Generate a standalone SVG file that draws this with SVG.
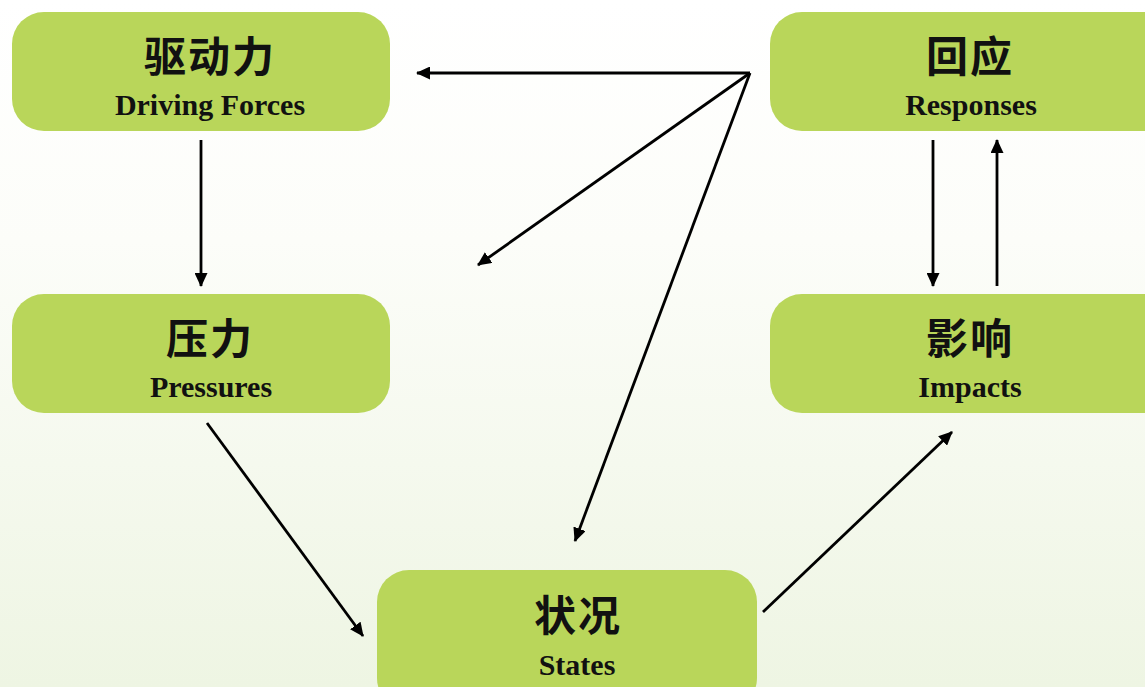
<svg xmlns="http://www.w3.org/2000/svg" width="1145" height="687" viewBox="0 0 1145 687">
<defs>
<linearGradient id="bg" x1="0" y1="0" x2="0" y2="1">
<stop offset="0" stop-color="#ffffff"/>
<stop offset="0.35" stop-color="#fcfdf9"/>
<stop offset="1" stop-color="#eef5e3"/>
</linearGradient>
<marker id="ah" viewBox="0 0 14 13" refX="13" refY="6.5" markerWidth="14" markerHeight="13" markerUnits="userSpaceOnUse" orient="auto">
<path d="M0,0 L14,6.5 L0,13 Z" fill="#000"/>
</marker>
<style>
.box{fill:#b9d65a;}
.zh{font-family:"Liberation Serif","Noto Sans CJK SC",serif;font-weight:bold;font-size:42px;fill:#111;text-anchor:middle;letter-spacing:2px;}
.en{font-family:"Liberation Serif",serif;font-weight:bold;font-size:30px;fill:#111;text-anchor:middle;}
.c{stroke:#000;stroke-width:2.8;fill:none;marker-end:url(#ah);}
</style>
</defs>
<rect width="1145" height="687" fill="url(#bg)"/>
<g id="driving">
<rect class="box" x="12" y="12" width="378" height="119" rx="32"/>
<text class="zh" x="210" y="72">驱动力</text>
<text class="en" x="210" y="115">Driving Forces</text>
</g>
<g id="responses">
<rect class="box" x="770" y="12" width="410" height="119" rx="32"/>
<text class="zh" x="970" y="72">回应</text>
<text class="en" x="971" y="115">Responses</text>
</g>
<g id="pressures">
<rect class="box" x="12" y="294" width="378" height="119" rx="32"/>
<text class="zh" x="210" y="354">压力</text>
<text class="en" x="211" y="397">Pressures</text>
</g>
<g id="impacts">
<rect class="box" x="770" y="294" width="410" height="119" rx="32"/>
<text class="zh" x="970" y="354">影响</text>
<text class="en" x="970" y="397">Impacts</text>
</g>
<g id="states">
<rect class="box" x="377" y="570" width="380" height="140" rx="32"/>
<text class="zh" x="578" y="631">状况</text>
<text class="en" x="577" y="675">States</text>
</g>
<g id="connectors">
<line class="c" x1="750" y1="73" x2="417" y2="73"/>
<line class="c" x1="750" y1="73" x2="478" y2="265"/>
<line class="c" x1="750" y1="73" x2="575" y2="541"/>
<line class="c" x1="201" y1="140" x2="201" y2="286"/>
<line class="c" x1="207" y1="423" x2="363" y2="636"/>
<line class="c" x1="763" y1="612" x2="952" y2="432"/>
<line class="c" x1="933" y1="140" x2="933" y2="286"/>
<line class="c" x1="997" y1="286" x2="997" y2="140"/>
</g>
</svg>
